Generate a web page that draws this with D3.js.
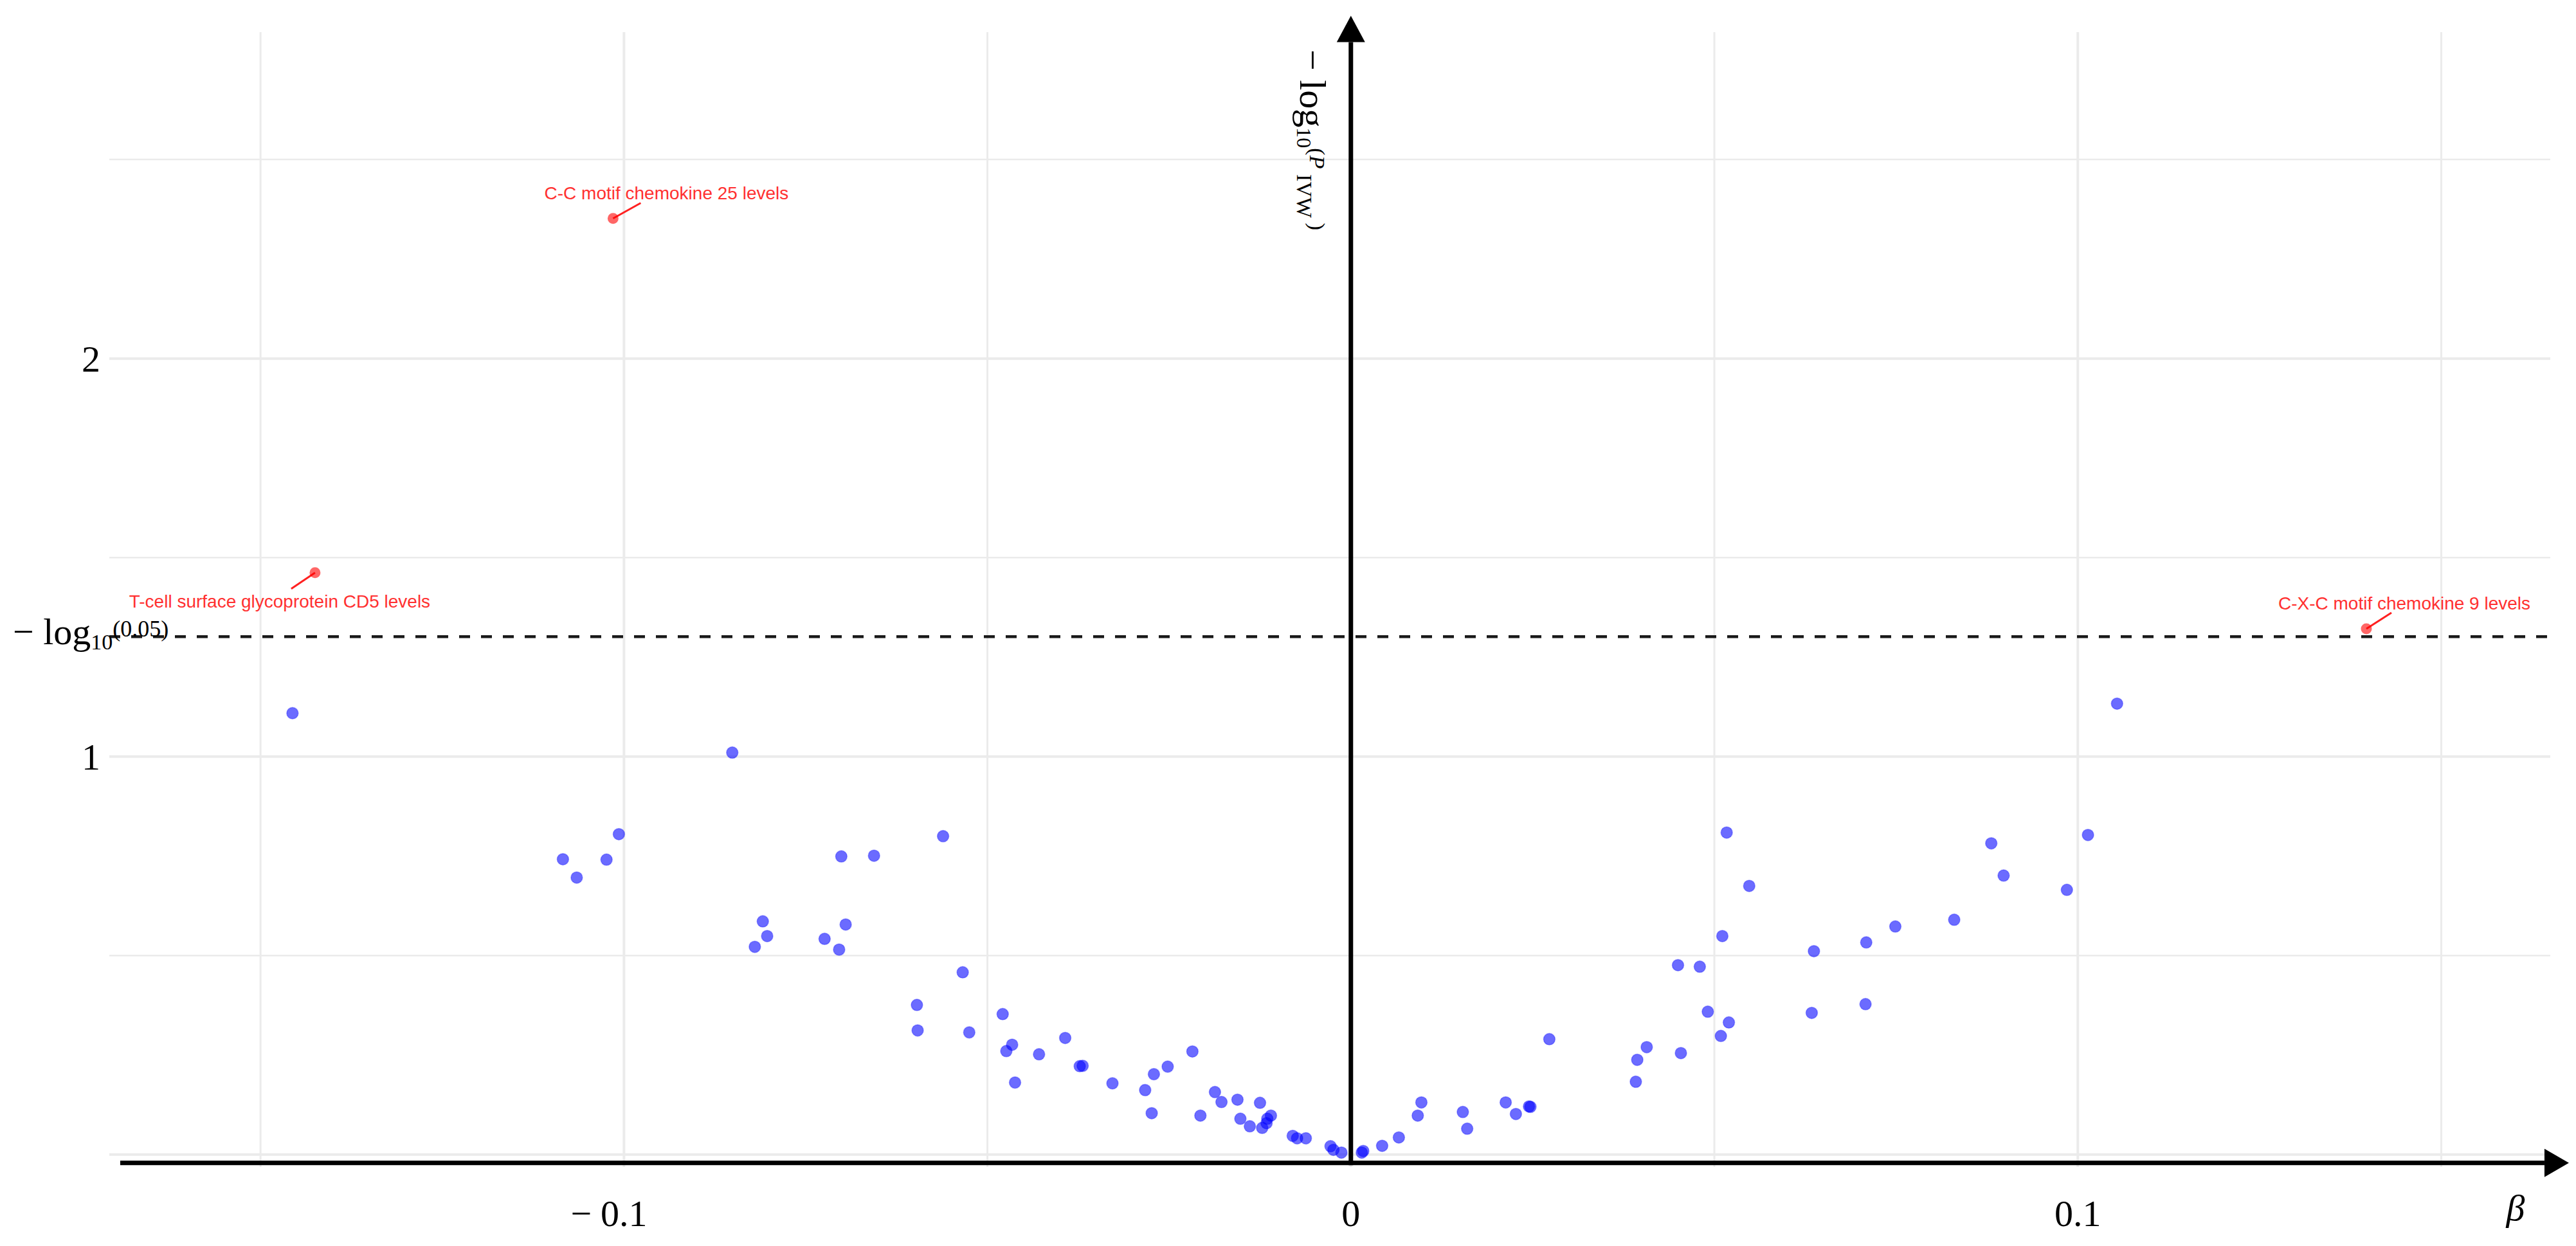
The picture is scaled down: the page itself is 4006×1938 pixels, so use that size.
<!DOCTYPE html>
<html>
<head>
<meta charset="utf-8">
<script src="https://cdn.jsdelivr.net/npm/d3@7"></script>
<style>
  body { margin: 0; background: #fff; }
</style>
</head>
<body>
<div id="container"></div>
<script>
/* DATA */
// non significant exposures (blue)
const betaBlue = [
  -0.1456, -0.0851, -0.1007, -0.1084, -0.1024, -0.1065, -0.0561, -0.0701, -0.0656, -0.0809,
  -0.0803, -0.0820, -0.0695, -0.0724, -0.0704, -0.0534, -0.0597, -0.0596, -0.0525, -0.0479,
  -0.0466, -0.0474, -0.0462, -0.0429, -0.0393, -0.0373, -0.0369, -0.0328, -0.0283, -0.0271,
  -0.0252, -0.0218, -0.0274, -0.0207, -0.0187, -0.0178, -0.0156, -0.0152, -0.0139, -0.0125,
  -0.0110, -0.0115, -0.0116, -0.0122, -0.0080, -0.0074, -0.0062, -0.0028, -0.0024, -0.0013,
  0.0015, 0.0017, 0.0043, 0.0066, 0.0092, 0.0097, 0.0154, 0.0160, 0.0213, 0.0227,
  0.0245, 0.0247, 0.0273, 0.0392, 0.0394, 0.0407, 0.0450, 0.0480, 0.0491, 0.0454,
  0.0517, 0.0548, 0.0511, 0.0520, 0.0509, 0.0637, 0.0634, 0.0709, 0.0708, 0.0749,
  0.0830, 0.0881, 0.0898, 0.0985, 0.1014, 0.1054
]
const logPBlue = [
  1.109, 1.010, 0.805, 0.742, 0.741, 0.696, 0.800, 0.749, 0.751, 0.586,
  0.549, 0.522, 0.578, 0.542, 0.515, 0.458, 0.376, 0.312, 0.307, 0.353,
  0.276, 0.260, 0.181, 0.252, 0.293, 0.222, 0.223, 0.179, 0.162, 0.202,
  0.221, 0.259, 0.104, 0.098, 0.157, 0.132, 0.138, 0.090, 0.071, 0.130,
  0.098, 0.090, 0.079, 0.067, 0.047, 0.041, 0.041, 0.021, 0.012, 0.005,
  0.005, 0.009, 0.022, 0.043, 0.098, 0.131, 0.107, 0.065, 0.131, 0.102,
  0.121, 0.120, 0.290, 0.183, 0.238, 0.270, 0.476, 0.472, 0.359, 0.255,
  0.809, 0.675, 0.549, 0.332, 0.298, 0.511, 0.356, 0.533, 0.378, 0.573,
  0.590, 0.782, 0.701, 0.665, 0.803, 1.133
]

// significant exposures (red, labelled)
const hitNames = ["C-C motif chemokine 25 levels", "T-cell surface glycoprotein CD5 levels", "C-X-C motif chemokine 9 levels"]
const hitBeta = [-0.1015, -0.1425, 0.1397]
const hitLogP = [2.352, 1.462, 1.321]

// ticks and grid
const xMajor = [-0.1, 0, 0.1]
const xMinor = [-0.15, -0.05, 0.05, 0.15]
const yMajor = [0, 1, 2]
const yMinor = [0.5, 1.5, 2.5]
const yLabelled = [1, 2]
const pThreshold = 0.05

/* CONSTANTS AND GLOBALS */
const width = 4006,
  height = 1938,
  panel = { left: 170, right: 3966, top: 50, bottom: 1815 }

// label nudges in px (text anchor, segment end) relative to the point
const nudges = [
  { tx: 83, ty: -30, sx: 43, sy: -24 },
  { tx: -55, ty: 54, sx: -37, sy: 25 },
  { tx: 59, ty: -30, sx: 39, sy: -25 }
]

const serif = "'Liberation Serif', 'Times New Roman', serif"
const sans = "'Liberation Sans', Arial, sans-serif"

/* SCALES */
const xScale = d3.scaleLinear()
  .domain([-0.1708, 0.1650])
  .range([panel.left, panel.right])

const yScale = d3.scaleLinear()
  .domain([-0.031, 2.82])
  .range([panel.bottom, panel.top])

/* SVG */
const svg = d3.select("#container")
  .append("svg")
  .attr("width", width)
  .attr("height", height)
  .style("background-color", "#fff")

// grid
const grid = svg.append("g").attr("stroke", "#ebebeb")

grid.selectAll(".vminor").data(xMinor).join("line")
  .attr("x1", d => xScale(d)).attr("x2", d => xScale(d))
  .attr("y1", panel.top).attr("y2", panel.bottom)
  .attr("stroke-width", 3)
grid.selectAll(".vmajor").data(xMajor).join("line")
  .attr("x1", d => xScale(d)).attr("x2", d => xScale(d))
  .attr("y1", panel.top).attr("y2", panel.bottom)
  .attr("stroke-width", 4)
grid.selectAll(".hminor").data(yMinor).join("line")
  .attr("x1", panel.left).attr("x2", panel.right)
  .attr("y1", d => yScale(d)).attr("y2", d => yScale(d))
  .attr("stroke-width", 2.5)
grid.selectAll(".hmajor").data(yMajor).join("line")
  .attr("x1", panel.left).attr("x2", panel.right)
  .attr("y1", d => yScale(d)).attr("y2", d => yScale(d))
  .attr("stroke-width", 4)

// threshold line
const thr = -Math.log10(pThreshold)
svg.append("line")
  .attr("x1", panel.left).attr("x2", panel.right)
  .attr("y1", yScale(thr)).attr("y2", yScale(thr))
  .attr("stroke", "#1a1a1a")
  .attr("stroke-width", 4.5)
  .attr("stroke-dasharray", "17 17")

// blue points
const blue = betaBlue.map((b, i) => ({ beta: b, logP: logPBlue[i] }))
svg.selectAll(".dot")
  .data(blue)
  .join("circle")
  .attr("class", "dot")
  .attr("cx", d => xScale(d.beta))
  .attr("cy", d => yScale(d.logP))
  .attr("r", 9)
  .attr("fill", "blue")
  .attr("fill-opacity", 0.58)
  .attr("stroke", "blue")
  .attr("stroke-opacity", 0.3)
  .attr("stroke-width", 1.5)

// red points + labels
const hits = hitNames.map((n, i) => ({ name: n, beta: hitBeta[i], logP: hitLogP[i], nudge: nudges[i] }))
const hitG = svg.selectAll(".hit").data(hits).join("g").attr("class", "hit")
  .attr("transform", d => `translate(${xScale(d.beta)},${yScale(d.logP)})`)
hitG.append("line")
  .attr("x1", 0).attr("y1", 0)
  .attr("x2", d => d.nudge.sx).attr("y2", d => d.nudge.sy)
  .attr("stroke", "#ff2020").attr("stroke-width", 3)
hitG.append("circle")
  .attr("r", 8.5)
  .attr("fill", "red")
  .attr("fill-opacity", 0.6)
hitG.append("text")
  .attr("x", d => d.nudge.tx).attr("y", d => d.nudge.ty)
  .attr("text-anchor", "middle")
  .attr("font-family", sans)
  .attr("font-size", 28)
  .attr("fill", "#ff3030")
  .text(d => d.name)

// axes with arrows
const axisY = -0.021
const x0 = xScale(-0.1693), x1 = xScale(0.1642), yA = yScale(axisY)
svg.append("line")
  .attr("x1", x0).attr("x2", x1).attr("y1", yA).attr("y2", yA)
  .attr("stroke", "#000").attr("stroke-width", 7)
svg.append("path")
  .attr("d", `M${x1},${yA - 22}L${x1 + 38},${yA}L${x1},${yA + 22}Z`)
  .attr("fill", "#000")

const xA = xScale(0), yTop = yScale(2.795)
svg.append("line")
  .attr("x1", xA).attr("x2", xA).attr("y1", yA + 3.5).attr("y2", yTop)
  .attr("stroke", "#000").attr("stroke-width", 7)
svg.append("path")
  .attr("d", `M${xA - 22},${yTop}L${xA},${yTop - 41}L${xA + 22},${yTop}Z`)
  .attr("fill", "#000")

// x tick labels (minus hangs to the left of the number)
const xt = svg.append("g").attr("font-family", serif).attr("font-size", 58).attr("fill", "#000")
xMajor.forEach(v => {
  const cx = xScale(v)
  const t = xt.append("text")
    .attr("x", cx).attr("y", 1907)
    .attr("text-anchor", "middle")
    .text(d3.format("")(Math.abs(v)))
  if (v < 0) {
    const w = t.node().getComputedTextLength()
    xt.append("text")
      .attr("x", cx - w / 2 - 14).attr("y", 1907)
      .attr("text-anchor", "end")
      .text("\u2212")
  }
})
xt.append("text")
  .attr("x", 3912).attr("y", 1898)
  .attr("text-anchor", "middle")
  .attr("font-style", "italic")
  .text("\u03b2")

// y tick labels
svg.append("g").attr("font-family", serif).attr("font-size", 58).attr("fill", "#000")
  .selectAll("text").data(yLabelled).join("text")
  .attr("x", 156).attr("y", d => yScale(d) + 20)
  .attr("text-anchor", "end")
  .text(d => d)

// threshold label
const tl = svg.append("text")
  .attr("x", 20).attr("y", yScale(thr) + 12)
  .attr("font-family", serif).attr("font-size", 58).attr("fill", "#000")
tl.append("tspan").text("\u2212 log")
tl.append("tspan").attr("font-size", 34).attr("dy", 8).text("10")
tl.append("tspan").attr("font-size", 36).attr("dy", -20).text("(0.05)")

// y axis title, rotated
const yl = svg.append("text")
  .attr("transform", "translate(2022,77) rotate(90)")
  .attr("font-family", serif).attr("font-size", 58).attr("fill", "#000")
yl.append("tspan").text("\u2212 log")
yl.append("tspan").attr("font-size", 32).attr("dy", 5).text("10")
yl.append("tspan").attr("font-size", 34).attr("dy", -20).text("(")
yl.append("tspan").attr("font-size", 34).attr("font-style", "italic").text("P")
yl.append("tspan").attr("font-size", 34).attr("dy", 20).text(" IVW")
yl.append("tspan").attr("font-size", 34).attr("dy", -20).text(" )")
</script>
</body>
</html>
